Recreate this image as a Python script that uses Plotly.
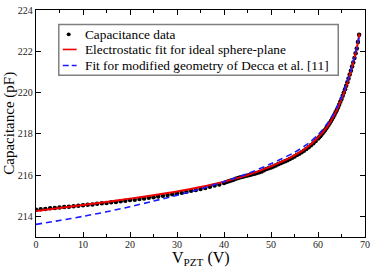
import plotly.graph_objects as go

# ---- data ----
data_v = [0, 1, 2, 3, 4, 5, 6, 7, 8, 9, 10, 11, 12, 13, 14, 15, 16, 17, 18, 19, 20,
          21, 22, 23, 24, 25, 26, 27, 28, 29, 30, 31, 32, 33, 34, 35, 36, 37, 38, 39, 40,
          40.5, 41, 41.5, 42, 42.5, 43, 43.5, 44, 44.5, 45, 45.5, 46, 46.5, 47, 47.5, 48,
          48.5, 49, 49.5, 50, 50.5, 51, 51.5, 52, 52.5, 53, 53.5, 54, 54.5, 55, 55.5, 56,
          56.5, 57, 57.5, 58, 58.5, 59, 59.5, 60,
          60.25, 60.5, 60.75, 61, 61.25, 61.5, 61.75, 62, 62.25, 62.5, 62.75, 63, 63.25,
          63.5, 63.75, 64, 64.25, 64.5, 64.75, 65, 65.25, 65.5, 65.75, 66, 66.25, 66.5,
          66.75, 67, 67.25, 67.5, 67.75, 68, 68.25, 68.5, 68.75]
data_c = [214.32, 214.34, 214.36, 214.39, 214.41, 214.43, 214.45, 214.47, 214.49, 214.52,
          214.54, 214.56, 214.58, 214.61, 214.63, 214.65, 214.68, 214.70, 214.73, 214.76,
          214.79, 214.81, 214.84, 214.87, 214.90, 214.93, 214.96, 215.00, 215.03, 215.07,
          215.11, 215.15, 215.19, 215.24, 215.28, 215.33, 215.38, 215.43, 215.49, 215.55,
          215.62,
          215.66, 215.70, 215.74, 215.78, 215.82, 215.86, 215.89, 215.92, 215.95, 215.98,
          216.01, 216.04, 216.07, 216.10, 216.14, 216.18, 216.24, 216.30, 216.33, 216.37,
          216.42, 216.47, 216.52, 216.57, 216.62, 216.67, 216.72, 216.78, 216.84, 216.90,
          216.97, 217.04, 217.11, 217.18, 217.26, 217.35, 217.44, 217.54, 217.65, 217.77,
          217.83, 217.90, 217.97, 218.04, 218.11, 218.19, 218.27, 218.35, 218.44, 218.53,
          218.62, 218.72, 218.82, 218.93, 219.04, 219.16, 219.28, 219.41, 219.55, 219.69,
          219.84, 220.00, 220.16, 220.33, 220.50, 220.68, 220.87, 221.06, 221.26, 221.46,
          221.67, 221.90, 222.14, 222.45, 222.80]

fit_v = [0, 5, 10, 15, 20, 25, 30, 35, 40, 45, 50, 55, 58, 60, 62, 63, 64, 65, 66, 67,
         67.5, 68, 68.5, 68.8]
fit_c = [214.26, 214.40, 214.55, 214.70, 214.86, 215.02, 215.20, 215.42, 215.68, 216.00,
         216.42, 216.95, 217.40, 217.82, 218.35, 218.72, 219.15, 219.68, 220.30, 221.03,
         221.45, 221.92, 222.42, 222.85]

decca_v = [0, 5, 10, 15, 20, 25, 30, 35, 40, 45, 50, 55, 58, 60, 62, 63, 64, 65, 66, 67,
           67.5, 68, 68.5, 68.8]
decca_c = [213.61, 213.80, 214.00, 214.22, 214.47, 214.74, 215.02, 215.33, 215.68, 216.07,
           216.55, 217.10, 217.55, 217.95, 218.50, 218.85, 219.28, 219.78, 220.38, 221.07,
           221.48, 221.95, 222.42, 222.80]

x_ticks = [0, 10, 20, 30, 40, 50, 60, 70]
y_ticks = [214, 216, 218, 220, 222, 224]

legend_labels = ["Capacitance data",
                 "Electrostatic fit for ideal sphere-plane",
                 "Fit for modified geometry of Decca et al. [11]"]

SERIF = "Liberation Serif"

fig = go.Figure()
fig.add_trace(go.Scatter(x=data_v, y=data_c, mode="markers",
                         marker=dict(color="black", size=4.5),
                         name=legend_labels[0], showlegend=False))
fig.add_trace(go.Scatter(x=fit_v, y=fit_c, mode="lines",
                         line=dict(color="#ee0000", width=2, shape="spline", smoothing=0.8),
                         name=legend_labels[1], showlegend=False))
fig.add_trace(go.Scatter(x=decca_v, y=decca_c, mode="lines",
                         line=dict(color="#1a1aff", width=1.6, dash="6px,4px",
                                   shape="spline", smoothing=0.8),
                         name=legend_labels[2], showlegend=False))

W, H = 374, 268
ML, MR, MT, MB = 36, 6, 4, 31
PW, PH = W - ML - MR, H - MT - MB


def px(xp):
    return (xp - ML) / PW


def py(yp):
    return (H - MB - yp) / PH


axis_common = dict(showline=True, linecolor="black", linewidth=1.3, mirror="ticks",
                   ticks="inside", tickcolor="black", tickwidth=1, ticklen=5,
                   showgrid=False, zeroline=False, ticklabeloverflow="allow",
                   tickfont=dict(family=SERIF, size=10, color="#222"))

fig.update_xaxes(range=[0, 70], tickvals=x_ticks, ticklabelstandoff=-2,
                 minor=dict(dtick=5, ticks="inside", ticklen=3, tickcolor="black",
                            tickwidth=1, showgrid=False),
                 **axis_common)
fig.update_yaxes(range=[213, 224], tickvals=y_ticks, **axis_common)

# legend box (manual, to mimic the original layout)
shapes = [
    dict(type="rect", xref="paper", yref="paper", x0=px(59), x1=px(341), y0=py(71), y1=py(19),
         line=dict(color="#808080", width=1.5), fillcolor="white", layer="above"),
    dict(type="circle", xref="paper", yref="paper", x0=px(67), x1=px(71), y0=py(31), y1=py(27),
         line=dict(color="black", width=0), fillcolor="black", layer="above"),
    dict(type="line", xref="paper", yref="paper", x0=px(63), x1=px(77), y0=py(44.5), y1=py(44.5),
         line=dict(color="#ee0000", width=1.6), layer="above"),
    dict(type="line", xref="paper", yref="paper", x0=px(63), x1=px(77), y0=py(61), y1=py(61),
         line=dict(color="#1a1aff", width=1.6, dash="6px,3px"), layer="above"),
]
annotations = []
for label, yy in zip(legend_labels, [29, 44.5, 61]):
    annotations.append(dict(text=label, xref="paper", yref="paper", x=px(83), y=py(yy),
                            xanchor="left", yanchor="middle", showarrow=False,
                            font=dict(family=SERIF, size=13.3, color="black")))

annotations.append(dict(text="V<sub>PZT</sub> (V)", xref="paper", yref="paper",
                        x=0.5, y=py(247.5), xanchor="center", yanchor="top", showarrow=False,
                        font=dict(family=SERIF, size=16, color="black")))
annotations.append(dict(text="Capacitance (pF)", xref="paper", yref="paper",
                        x=px(9), y=0.5, xanchor="center", yanchor="middle", textangle=-90,
                        showarrow=False, font=dict(family=SERIF, size=15, color="black")))

fig.update_layout(width=W, height=H, margin=dict(l=ML, r=MR, t=MT, b=MB),
                  paper_bgcolor="white", plot_bgcolor="white",
                  shapes=shapes, annotations=annotations, showlegend=False)

fig.write_html("out.html", config={"displayModeBar": False},
               post_script="document.body.style.margin='0';document.body.style.overflow='hidden';")
